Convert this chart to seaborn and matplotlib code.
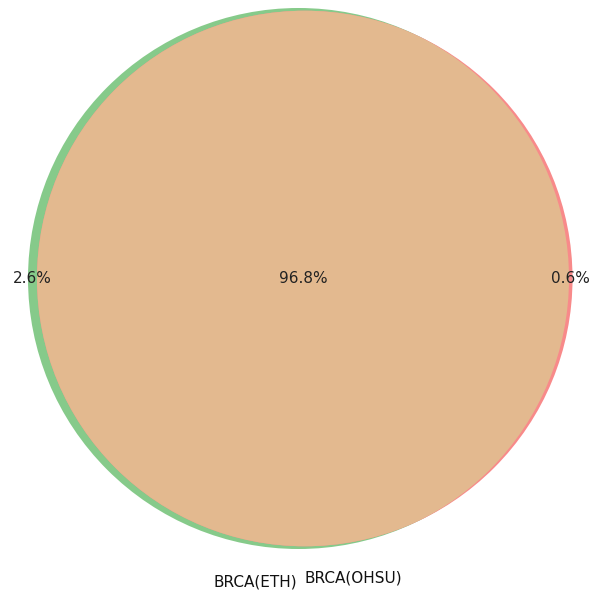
import numpy as np
import matplotlib
matplotlib.use("Agg")
import matplotlib.pyplot as plt
from matplotlib.patches import Circle
import seaborn as sns

# venn regions (percent): only ETH, both, only OHSU
set_names = ["BRCA(ETH)", "BRCA(OHSU)"]
only_a = 2.6
both = 96.8
only_b = 0.6
region_labels = ["2.6%", "96.8%", "0.6%"]
set_colors = ["#86ca8a", "#f88a8a"]
overlap_color = "#e3b98f"

sns.set_style("white")
plt.rcParams['font.family'] = ['DejaVu Sans']
plt.rcParams['font.sans-serif'] = ['DejaVu Sans']

# circle radii from set areas
r1 = np.sqrt((only_a + both) / np.pi)
r2 = np.sqrt((only_b + both) / np.pi)


def lens_area(d, ra, rb):
    if d >= ra + rb:
        return 0.0
    if d <= abs(ra - rb):
        return np.pi * min(ra, rb) ** 2
    a1 = ra ** 2 * np.arccos((d ** 2 + ra ** 2 - rb ** 2) / (2 * d * ra))
    a2 = rb ** 2 * np.arccos((d ** 2 + rb ** 2 - ra ** 2) / (2 * d * rb))
    a3 = 0.5 * np.sqrt((-d + ra + rb) * (d + ra - rb) * (d - ra + rb) * (d + ra + rb))
    return a1 + a2 - a3


lo, hi = abs(r1 - r2), r1 + r2
for _ in range(100):
    mid = (lo + hi) / 2
    if lens_area(mid, r1, r2) > both:
        lo = mid
    else:
        hi = mid
d = (lo + hi) / 2

fig = plt.figure(figsize=(5.9, 5.92), dpi=100)
ax = fig.add_axes([0, 0, 1, 1])

c1 = Circle((0, 0), r1, facecolor=set_colors[0], edgecolor="none")
c2 = Circle((d, 0), r2, facecolor=set_colors[1], edgecolor="none")
ax.add_patch(c1)
ax.add_patch(c2)
lens = Circle((d, 0), r2, facecolor=overlap_color, edgecolor="none")
ax.add_patch(lens)
lens.set_clip_path(c1)

# region labels
xa = (-r1 + (d - r2)) / 2
xab = ((d - r2) + r1) / 2
xb = (r1 + d + r2) / 2
for x, lab in zip([xa, xab, xb], region_labels):
    ax.text(x, 0, lab, ha="center", va="center", fontsize=11,
            family="DejaVu Sans", color="#222222")

# map pixels to data units
scale = 270.5 / r1
ax.set_xlim(-298.5 / scale, (590 - 298.5) / scale)
ax.set_ylim(-(592 - 278.5) / scale, 278.5 / scale)
ax.set_aspect("equal")
ax.axis("off")

ax.text(255 / 590, 1 - 582 / 592, set_names[0], transform=ax.transAxes,
        ha="center", va="center", fontsize=11, family="DejaVu Sans", color="#111111")
ax.text(353 / 590, 1 - 578 / 592, set_names[1], transform=ax.transAxes,
        ha="center", va="center", fontsize=11, family="DejaVu Sans", color="#111111")

fig.savefig("out.png", dpi=100)
